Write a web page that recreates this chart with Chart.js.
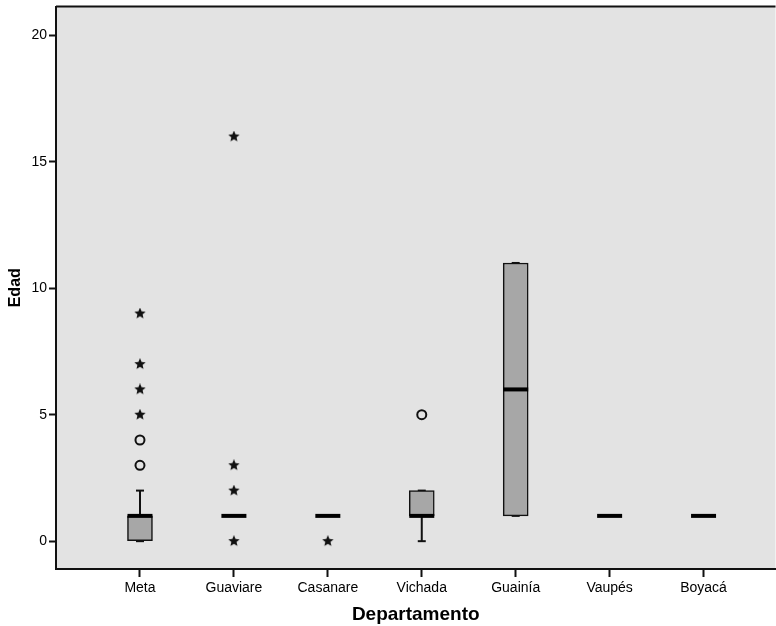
<!DOCTYPE html>
<html>
<head>
<meta charset="utf-8">
<script src="https://cdn.jsdelivr.net/npm/chart.js@4.4.0/dist/chart.umd.min.js"></script>
<style>
  html, body { margin: 0; padding: 0; background: #fff; overflow: hidden; }
  #wrap { width: 782px; height: 626px; }
</style>
</head>
<body>
<div id="wrap"><canvas id="boxChart"></canvas></div>
<script>
// categorias y resumen de cada caja
var departamentos = ['Meta','Guaviare','Casanare','Vichada','Guainía','Vaupés','Boyacá'];
var q1 = [0, 1, 1, 1, 1, 1, 1];
var q3 = [1, 1, 1, 2, 11, 1, 1];
var medianas = [1, 1, 1, 1, 6, 1, 1];
var bigoteMin = [0, 1, 1, 0, 1, 1, 1];
var bigoteMax = [2, 1, 1, 2, 11, 1, 1];

// valores atipicos (circulos) y extremos (estrellas)
var atipicosDep = ['Meta','Meta','Vichada'];
var atipicosEdad = [3, 4, 5];
var extremosDep = ['Meta','Meta','Meta','Meta','Guaviare','Guaviare','Guaviare','Guaviare','Casanare'];
var extremosEdad = [5, 6, 7, 9, 16, 3, 2, 0, 0];

var yTicks = [0, 5, 10, 15, 20];

// small filled star used as point style
function makeStar(size) {
  var c = document.createElement('canvas');
  c.width = size; c.height = size;
  var g = c.getContext('2d');
  var cx = size / 2, cy = size / 2, R = size / 2, r = R * 0.45;
  g.beginPath();
  for (var i = 0; i < 10; i++) {
    var a = -Math.PI / 2 + i * Math.PI / 5;
    var rad = i % 2 === 0 ? R : r;
    g.lineTo(cx + rad * Math.cos(a), cy + rad * Math.sin(a));
  }
  g.closePath();
  g.fillStyle = '#111';
  g.fill();
  return c;
}
var star = makeStar(12);

var boxPlugin = {
  id: 'boxPlugin',
  beforeDraw: function(chart) {
    var ctx = chart.ctx, a = chart.chartArea;
    ctx.save();
    ctx.fillStyle = '#e3e3e3';
    ctx.fillRect(a.left, a.top, a.right - a.left, a.bottom - a.top);
    ctx.strokeStyle = '#111';
    ctx.lineWidth = 2;
    ctx.beginPath();
    ctx.moveTo(a.left, a.top);
    ctx.lineTo(a.right, a.top);
    ctx.stroke();
    ctx.restore();
  },
  beforeDatasetsDraw: function(chart) {
    var ctx = chart.ctx, xs = chart.scales.x, ys = chart.scales.y;
    ctx.save();
    ctx.strokeStyle = '#111';
    ctx.lineWidth = 2;
    departamentos.forEach(function(d, i) {
      var x = xs.getPixelForValue(i);
      var segs = [[bigoteMin[i], q1[i]], [q3[i], bigoteMax[i]]];
      segs.forEach(function(s) {
        if (s[0] === s[1]) return;
        ctx.beginPath();
        ctx.moveTo(x, ys.getPixelForValue(s[0]));
        ctx.lineTo(x, ys.getPixelForValue(s[1]));
        ctx.stroke();
      });
      [bigoteMin[i], bigoteMax[i]].forEach(function(v) {
        if (v === medianas[i]) return;
        var y = ys.getPixelForValue(v);
        ctx.beginPath();
        ctx.moveTo(x - 4, y);
        ctx.lineTo(x + 4, y);
        ctx.stroke();
      });
    });
    ctx.restore();
  },
  afterDatasetsDraw: function(chart) {
    var ctx = chart.ctx, xs = chart.scales.x, ys = chart.scales.y;
    ctx.save();
    ctx.strokeStyle = '#000';
    ctx.lineWidth = 4;
    departamentos.forEach(function(d, i) {
      var x = xs.getPixelForValue(i);
      var y = ys.getPixelForValue(medianas[i]);
      ctx.beginPath();
      ctx.moveTo(x - 12.5, y);
      ctx.lineTo(x + 12.5, y);
      ctx.stroke();
    });
    ctx.restore();
  }
};

new Chart('boxChart', {
  type: 'bar',
  data: {
    datasets: [{
      type: 'bar',
      data: departamentos.map(function(d, i) { return {x: i, y: [q1[i], q3[i]]}; }),
      backgroundColor: '#a7a7a7',
      borderColor: '#111',
      borderWidth: 1.5,
      borderSkipped: false,
      barThickness: 25,
      order: 2
    }, {
      type: 'scatter',
      data: atipicosDep.map(function(d, i) { return {x: departamentos.indexOf(d), y: atipicosEdad[i]}; }),
      pointStyle: 'circle',
      pointRadius: 4.5,
      borderColor: '#111',
      borderWidth: 2,
      backgroundColor: 'rgba(0,0,0,0)',
      order: 1
    }, {
      type: 'scatter',
      data: extremosDep.map(function(d, i) { return {x: departamentos.indexOf(d), y: extremosEdad[i]}; }),
      pointStyle: star,
      order: 1
    }]
  },
  options: {
    responsive: true,
    maintainAspectRatio: false,
    animation: false,
    layout: { padding: { left: 0, top: 5, right: 0, bottom: 0 } },
    plugins: {
      legend: { display: false },
      tooltip: { enabled: false }
    },
    scales: {
      x: {
        type: 'linear',
        offset: false,
        min: -0.894,
        max: 6.766,
        afterBuildTicks: function(s) { s.ticks = departamentos.map(function(d, i) { return {value: i}; }); },
        afterFit: function(s) { s.height = 57; s.paddingRight = 0; },
        ticks: {
          callback: function(v) { return departamentos[v]; },
          color: '#000',
          font: { family: 'Liberation Sans', size: 14 },
          padding: 3,
          maxRotation: 0,
          autoSkip: false
        },
        grid: { offset: false, drawOnChartArea: false, drawTicks: true, tickLength: 8, tickColor: '#111', tickWidth: 2 },
        border: { display: true, color: '#111', width: 2 },
        title: {
          display: true,
          text: 'Departamento',
          color: '#000',
          font: { family: 'Liberation Sans', size: 19, weight: 'bold' },
          padding: { top: 0, bottom: 0 }
        }
      },
      y: {
        type: 'linear',
        min: -1.1,
        max: 21.14,
        afterBuildTicks: function(s) { s.ticks = yTicks.map(function(v) { return {value: v}; }); },
        afterFit: function(s) { s.width = 56; s.paddingTop = 0; },
        ticks: {
          color: '#000',
          font: { family: 'Liberation Sans', size: 14 },
          padding: 2
        },
        grid: { drawOnChartArea: false, drawTicks: true, tickLength: 7, tickColor: '#111', tickWidth: 2 },
        border: { display: true, color: '#111', width: 2 },
        title: {
          display: true,
          text: 'Edad',
          color: '#000',
          font: { family: 'Liberation Sans', size: 16, weight: 'bold' },
          padding: { top: 6, bottom: 0 }
        }
      }
    }
  },
  plugins: [boxPlugin]
});
</script>
</body>
</html>
